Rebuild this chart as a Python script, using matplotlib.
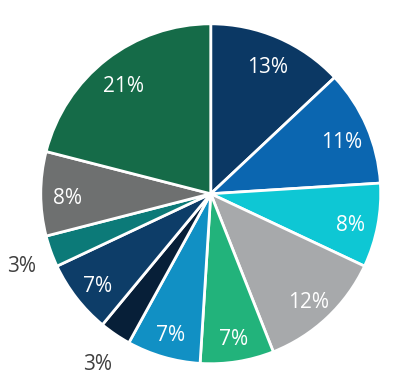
import matplotlib
matplotlib.use("Agg")
import matplotlib.pyplot as plt
import numpy as np

values = [13, 11, 8, 12, 7, 7, 3, 7, 3, 8, 21]
labels = ["13%", "11%", "8%", "12%", "7%", "7%", "3%", "7%", "3%", "8%", "21%"]
colors = ["#0b3864", "#0b66b0", "#0ec7d4", "#a7a9ab", "#22b37b", "#1190c4",
          "#071f38", "#0d3d68", "#0c7a78", "#6e7070", "#156b48"]
outside = [False, False, False, False, False, False, True, False, True, False, False]

fig = plt.figure(figsize=(3.96, 3.85), dpi=100)
ax = fig.add_axes([0, 0, 1, 1])
wedges, _ = ax.pie(values, colors=colors, startangle=90, counterclock=False,
                   radius=1.0, center=(0, 0),
                   wedgeprops=dict(edgecolor="white", linewidth=2))
cum = 0
for v, lab, out in zip(values, labels, outside):
    mid = 90 - (cum + v / 2) / sum(values) * 360
    cum += v
    r = 1.18 if out else 0.84
    x, y = r * np.cos(np.radians(mid)), r * np.sin(np.radians(mid))
    ax.text(x, y - 0.03, lab, ha="center", va="center", fontsize=15,
            family="Open Sans", color="#404040" if out else "white")
ax.set_xlim(-1.24, 1.09)
ax.set_ylim(-1.125, 1.14)
ax.set_aspect("equal")
ax.axis("off")
fig.savefig("out.png", dpi=100)
